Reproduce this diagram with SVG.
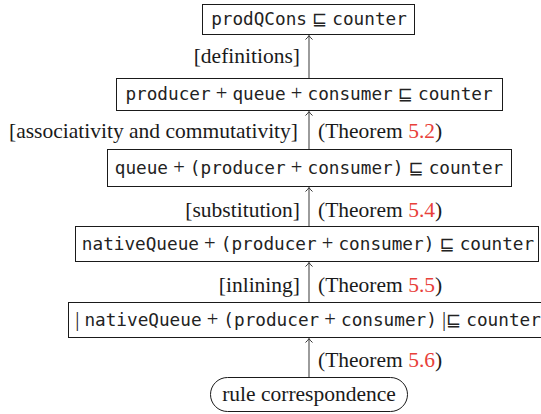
<svg xmlns="http://www.w3.org/2000/svg" width="541" height="414" viewBox="0 0 541 414">
  <defs>
    <style>
      .box { fill: #ffffff; stroke: #1a1a1a; stroke-width: 1; }
      .edge { fill: none; stroke: #4a4a4a; stroke-width: 1.1; }
      .m { font-family: "DejaVu Sans Mono", "Liberation Mono", monospace; font-size: 17.7px; fill: #222; }
      .s { font-family: "Liberation Serif", "DejaVu Serif", serif; font-size: 20.5px; fill: #222; }
      .q { font-family: "DejaVu Sans", "DejaVu Serif", sans-serif; font-size: 18px; fill: #222; }
      .lbl { font-family: "Liberation Serif", "DejaVu Serif", serif; font-size: 21.5px; fill: #1a1a1a; }
      .ref { fill: #e8403a; }
    </style>
    <marker id="tip" viewBox="-5 -4 10 8" markerWidth="10" markerHeight="8" refX="0" refY="0" orient="auto" markerUnits="userSpaceOnUse">
      <path d="M-4,-3.5 Q-1.5,-0.6 0,0 Q-1.5,0.6 -4,3.5" fill="none" stroke="#333" stroke-width="1"/>
    </marker>
  </defs>

  <!-- connectors (drawn first so boxes sit on top) -->
  <g id="connectors">
    <line class="edge" x1="309" y1="78" x2="309" y2="35.5" marker-end="url(#tip)"/>
    <line class="edge" x1="309" y1="149" x2="309" y2="111.5" marker-end="url(#tip)"/>
    <line class="edge" x1="309" y1="226" x2="309" y2="187.5" marker-end="url(#tip)"/>
    <line class="edge" x1="309" y1="302" x2="309" y2="262.5" marker-end="url(#tip)"/>
    <line class="edge" x1="309" y1="377" x2="309" y2="338.5" marker-end="url(#tip)"/>
  </g>

  <!-- step labels -->
  <g id="labels">
    <text class="lbl" x="300" y="63" text-anchor="end">[definitions]</text>
    <text class="lbl" x="298" y="138" text-anchor="end">[associativity and commutativity]</text>
    <text class="lbl" x="318" y="138">(Theorem <tspan class="ref">5.2</tspan>)</text>
    <text class="lbl" x="300" y="217" text-anchor="end">[substitution]</text>
    <text class="lbl" x="318" y="217">(Theorem <tspan class="ref">5.4</tspan>)</text>
    <text class="lbl" x="300" y="292" text-anchor="end">[inlining]</text>
    <text class="lbl" x="318" y="292">(Theorem <tspan class="ref">5.5</tspan>)</text>
    <text class="lbl" x="318" y="367">(Theorem <tspan class="ref">5.6</tspan>)</text>
  </g>

  <g id="goal">
    <rect class="box" x="202.5" y="4.5" width="212" height="30"/>
    <text x="309" y="25" text-anchor="middle"><tspan class="m">prodQCons</tspan><tspan class="s"> </tspan><tspan class="q">⊑</tspan><tspan class="s"> </tspan><tspan class="m">counter</tspan></text>
  </g>

  <g id="composed">
    <rect class="box" x="116.5" y="78.5" width="386" height="32"/>
    <text x="309" y="100" text-anchor="middle"><tspan class="m">producer</tspan><tspan class="s"> + </tspan><tspan class="m">queue</tspan><tspan class="s"> + </tspan><tspan class="m">consumer</tspan><tspan class="s"> </tspan><tspan class="q">⊑</tspan><tspan class="s"> </tspan><tspan class="m">counter</tspan></text>
  </g>

  <g id="regrouped">
    <rect class="box" x="107.5" y="149.5" width="404" height="37"/>
    <text x="309" y="174" text-anchor="middle"><tspan class="m">queue</tspan><tspan class="s"> + </tspan><tspan class="m">(producer</tspan><tspan class="s"> + </tspan><tspan class="m">consumer)</tspan><tspan class="s"> </tspan><tspan class="q">⊑</tspan><tspan class="s"> </tspan><tspan class="m">counter</tspan></text>
  </g>

  <g id="substituted">
    <rect class="box" x="75.5" y="226.5" width="463" height="35"/>
    <text x="308" y="250" text-anchor="middle"><tspan class="m">nativeQueue</tspan><tspan class="s"> + </tspan><tspan class="m">(producer</tspan><tspan class="s"> + </tspan><tspan class="m">consumer)</tspan><tspan class="s"> </tspan><tspan class="q">⊑</tspan><tspan class="s"> </tspan><tspan class="m">counter</tspan></text>
  </g>

  <g id="inlined">
    <rect class="box" x="68.5" y="302.5" width="482" height="35"/>
    <text x="308" y="326" text-anchor="middle"><tspan class="s">| </tspan><tspan class="m">nativeQueue</tspan><tspan class="s"> + </tspan><tspan class="m">(producer</tspan><tspan class="s"> + </tspan><tspan class="m">consumer)</tspan><tspan class="s"> |</tspan><tspan class="q">⊑</tspan><tspan class="s"> </tspan><tspan class="m">counter</tspan></text>
  </g>

  <g id="rule-correspondence">
    <rect class="box" x="210.5" y="377.5" width="197" height="34" rx="17" ry="17"/>
    <text class="lbl" x="309" y="401" text-anchor="middle">rule correspondence</text>
  </g>
</svg>
